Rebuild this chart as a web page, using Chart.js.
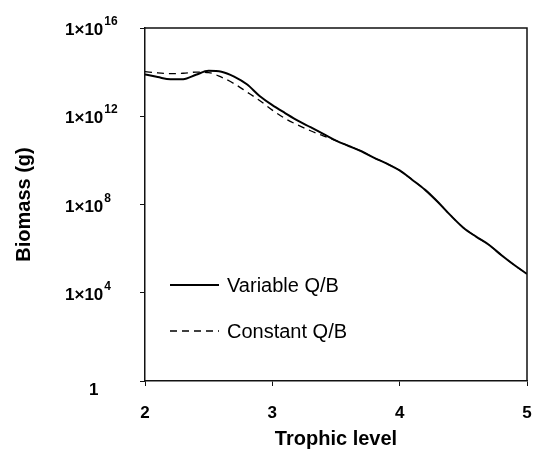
<!DOCTYPE html>
<html><head><meta charset="utf-8">
<script src="https://cdn.jsdelivr.net/npm/chart.js@4/dist/chart.umd.min.js"></script>
<style>html,body{margin:0;padding:0;background:#fff}#wrap{width:536px;height:456px}</style>
</head><body><div id="wrap"><canvas id="c" width="536" height="456"></canvas></div>
<script>
// Trophic levels (x) and biomass in grams (y)
const trophicLevels = [2.0,2.1,2.2,2.3,2.4,2.5,2.6,2.7,2.8,2.9,3.0,3.1,3.2,3.3,3.4,3.5,3.6,3.7,3.8,3.9,4.0,4.1,4.2,4.3,4.4,4.5,4.6,4.7,4.8,4.9,5.0];
const variableQB = [7.9e13,6.0e13,4.7e13,4.8e13,7.6e13,1.15e14,1.05e14,6.3e13,2.8e13,8.3e12,3.2e12,1.4e12,6.3e11,3.2e11,1.6e11,7.9e10,4.5e10,2.6e10,1.3e10,7.1e9,3.5e9,1.3e9,4.6e8,1.3e8,3.2e7,8.9e6,3.5e6,1.5e6,5.0e5,1.8e5,7.1e4];
const constantQB = [1.05e14,9.3e13,8.5e13,8.9e13,1.0e14,9.5e13,5.9e13,3.0e13,1.26e13,5.2e12,1.9e12,7.9e11,4.0e11,2.2e11,1.3e11,7.9e10,4.5e10,2.6e10,1.3e10,7.1e9,3.5e9,1.3e9,4.6e8,1.3e8,3.2e7,8.9e6,3.5e6,1.5e6,5.0e5,1.8e5,7.1e4];
const seriesNames = ['Variable Q/B','Constant Q/B'];
const yTickValues = [1,1e4,1e8,1e12,1e16];
const yTickBase = ['1','1\u00d710','1\u00d710','1\u00d710','1\u00d710'];
const yTickExp = ['','4','8','12','16'];
const xTitle = 'Trophic level';
const yTitle = 'Biomass (g)';

const FONT = '"Liberation Sans", Arial, Helvetica, sans-serif';

const pts = arr => trophicLevels.map((x,i)=>({x:x,y:arr[i]}));

const decorPlugin = {
  id:'decor',
  afterDraw(chart){
    const ctx = chart.ctx, a = chart.chartArea, ys = chart.scales.y;
    ctx.save();
    // top and right frame
    ctx.strokeStyle = '#111'; ctx.lineWidth = 1.5;
    ctx.beginPath();
    ctx.moveTo(a.left, a.top); ctx.lineTo(a.right, a.top); ctx.lineTo(a.right, a.bottom);
    ctx.stroke();
    // y tick labels with superscripts
    ctx.fillStyle = '#000';
    ctx.textBaseline = 'alphabetic';
    ctx.textAlign = 'left';
    yTickValues.forEach((v,i)=>{
      const y = ys.getPixelForValue(v);
      ctx.font = 'bold 17px ' + FONT;
      if (!yTickExp[i]) {
        ctx.fillText(yTickBase[i], 89, y + 14);
      } else {
        ctx.fillText(yTickBase[i], 65, y + 7);
        const w = ctx.measureText(yTickBase[i]).width;
        ctx.font = 'bold 12px ' + FONT;
        ctx.fillText(yTickExp[i], 65 + w + 1, y - 3);
      }
    });
    // legend
    chart.data.datasets.forEach((ds,i)=>{
      const ly = 285 + i*46;
      ctx.strokeStyle = '#000';
      ctx.lineWidth = ds.borderWidth;
      ctx.setLineDash(ds.borderDash || []);
      ctx.beginPath(); ctx.moveTo(170, ly); ctx.lineTo(219, ly); ctx.stroke();
      ctx.setLineDash([]);
      ctx.font = '20px ' + FONT;
      ctx.textBaseline = 'middle';
      ctx.fillText(ds.label, 227, ly + 1);
    });
    ctx.restore();
  }
};

new Chart(document.getElementById('c'), {
  type:'line',
  data:{datasets:[
    {label:seriesNames[0], data:pts(variableQB), borderColor:'#000', borderWidth:2, pointRadius:0, cubicInterpolationMode:'monotone', fill:false},
    {label:seriesNames[1], data:pts(constantQB), borderColor:'#000', borderWidth:1.3, borderDash:[7,5], pointRadius:0, cubicInterpolationMode:'monotone', fill:false}
  ]},
  options:{
    responsive:false, animation:false, devicePixelRatio:1,
    layout:{padding:{left:10, right:9, top:28, bottom:0}},
    plugins:{legend:{display:false}, tooltip:{enabled:false}},
    scales:{
      x:{type:'linear', min:2, max:5,
        ticks:{stepSize:1, color:'#000', font:{family:FONT, size:17, weight:'bold'}, padding:17, maxRotation:0},
        grid:{drawOnChartArea:false, drawTicks:true, tickLength:5, color:'#111', lineWidth:1},
        border:{display:true, color:'#111', width:1.5},
        title:{display:true, text:xTitle, color:'#000', font:{family:FONT, size:20, weight:'bold'}, padding:{top:0, bottom:5}},
        afterFit(s){ s.height = 456 - 381; s.paddingLeft = 0; s.paddingRight = 0; }
      },
      y:{type:'logarithmic', min:1, max:1e16,
        afterBuildTicks(s){ s.ticks = yTickValues.map(v=>({value:v})); },
        ticks:{color:'rgba(0,0,0,0)', font:{size:12}, callback:()=>''},
        grid:{drawOnChartArea:false, drawTicks:true, tickLength:5, color:'#111', lineWidth:1},
        border:{display:true, color:'#111', width:1.5},
        title:{display:true, text:yTitle, color:'#000', font:{family:FONT, size:20, weight:'bold'}, padding:{top:2, bottom:0}},
        afterFit(s){ s.width = 135; s.paddingTop = 0; s.paddingBottom = 0; }
      }
    }
  },
  plugins:[decorPlugin]
});
</script></body></html>
